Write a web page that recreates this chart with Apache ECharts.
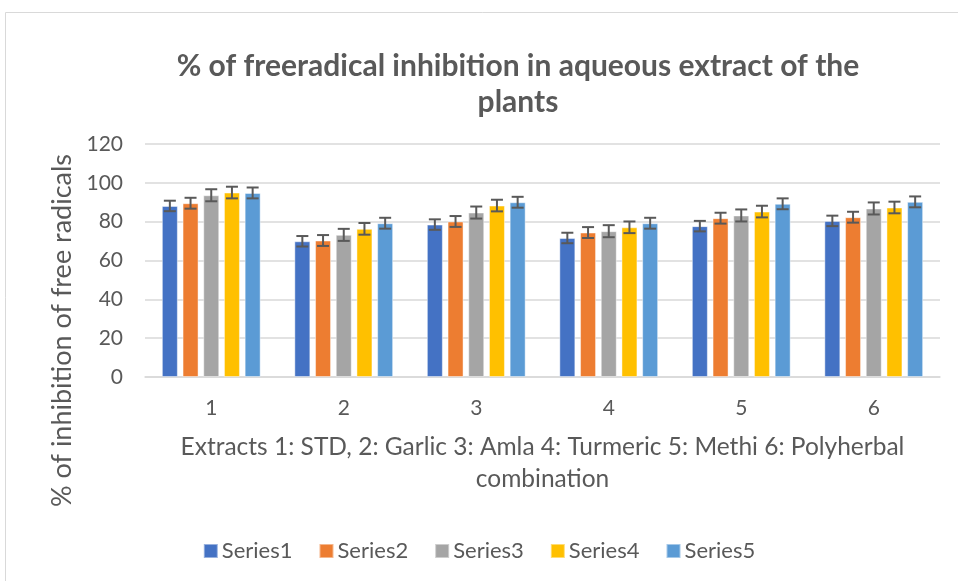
<!DOCTYPE html>
<html><head><meta charset="utf-8">
<script src="https://cdn.jsdelivr.net/npm/echarts@6/dist/echarts.min.js"></script>
<style>html,body{margin:0;padding:0;background:#fff}#c{width:958px;height:581px}</style>
</head><body><div id="c"></div>
<script>
var categories = ['1','2','3','4','5','6'];
var seriesNames = ['Series1','Series2','Series3','Series4','Series5'];
var series1 = [88.1, 69.9, 78.5, 71.6, 77.7, 80.4];
var series2 = [89.5, 70.3, 80.1, 74.4, 81.8, 82.3];
var series3 = [93.6, 73.2, 84.7, 75.1, 83.2, 86.8];
var series4 = [95.0, 76.3, 88.3, 77.1, 85.2, 87.3];
var series5 = [94.8, 79.2, 90.0, 79.2, 89.2, 90.2];
var errors = [2.7, 2.8, 3.1, 3.0, 2.8];
var yTicks = [0, 20, 40, 60, 80, 100, 120];
var colors = ['#4472C4','#ED7D31','#A5A5A5','#FFC000','#5B9BD5'];
var allData = [series1, series2, series3, series4, series5];

var BAR_W = 16, PITCH = 20.7;
var chart = echarts.init(document.getElementById('c'));
var series = [];
allData.forEach(function(d, i){
  series.push({
    name: seriesNames[i], type: 'bar', data: d, barWidth: BAR_W, barGap: ((PITCH-BAR_W)/BAR_W*100)+'%',
    itemStyle: {color: colors[i], borderColor: 'rgba(255,255,255,0.45)', borderWidth: 1},
    z: 2
  });
});
allData.forEach(function(d, i){
  series.push({
    type: 'custom', name: seriesNames[i] + ' err', z: 5, silent: true,
    data: d.map(function(v, k){ return [k, v - errors[i], v + errors[i]]; }),
    renderItem: function(params, api){
      var x = api.value(0);
      var lo = api.coord([x, api.value(1)]);
      var hi = api.coord([x, api.value(2)]);
      var cx = lo[0] + (i - 2) * PITCH;
      var hw = 6;
      var st = {stroke: '#595959', lineWidth: 2};
      return {type: 'group', children: [
        {type: 'line', shape: {x1: cx, y1: lo[1], x2: cx, y2: hi[1]}, style: st},
        {type: 'line', shape: {x1: cx-hw, y1: lo[1], x2: cx+hw, y2: lo[1]}, style: st},
        {type: 'line', shape: {x1: cx-hw, y1: hi[1], x2: cx+hw, y2: hi[1]}, style: st}
      ]};
    },
    encode: {x: 0, y: [1, 2]}
  });
});

chart.setOption({
  animation: false,
  backgroundColor: '#fff',
  textStyle: {fontFamily: 'Lato, "Open Sans", sans-serif'},
  graphic: [{type: 'rect', shape: {x: 5.5, y: 12.5, width: 1000, height: 1000}, style: {fill: 'none', stroke: '#d9d9d9', lineWidth: 1}, z: -1}],
  title: {
    text: '% of freeradical inhibition in aqueous extract of the\nplants',
    left: 513, top: 43, textAlign: 'center',
    textStyle: {fontSize: 30, fontWeight: 'bold', color: '#595959', lineHeight: 36, fontFamily: 'Lato'}
  },
  legend: {
    data: seriesNames, top: 535, left: 'center', itemWidth: 14, itemHeight: 14, itemGap: 26,
    icon: 'rect', textStyle: {fontSize: 22, color: '#595959', padding: [0,0,0,-1]}
  },
  grid: {left: 145, right: 18, top: 144, bottom: 204},
  xAxis: {
    type: 'category', data: categories,
    axisLine: {lineStyle: {color: '#d9d9d9', width: 1.5}}, axisTick: {show: false},
    axisLabel: {fontSize: 21, color: '#595959', margin: 21},
    name: 'Extracts 1: STD, 2: Garlic 3: Amla 4: Turmeric 5: Methi 6: Polyherbal\ncombination',
    nameLocation: 'middle', nameGap: 54,
    nameTextStyle: {fontSize: 24.5, color: '#595959', lineHeight: 32, align: 'center'}
  },
  yAxis: {
    type: 'value', min: 0, max: 120, interval: 20,
    axisLine: {show: false}, axisTick: {show: false},
    splitLine: {lineStyle: {color: '#d9d9d9', width: 1.5}},
    axisLabel: {fontSize: 21, color: '#595959', margin: 22, formatter: function(v){ return yTicks.indexOf(v) >= 0 ? String(v) : ''; }},
    name: '% of inhibition of free radicals', nameLocation: 'middle', nameGap: 69,
    nameTextStyle: {fontSize: 27, color: '#595959', padding: [0, 140, 0, 0]}
  },
  series: series
});
</script></body></html>
